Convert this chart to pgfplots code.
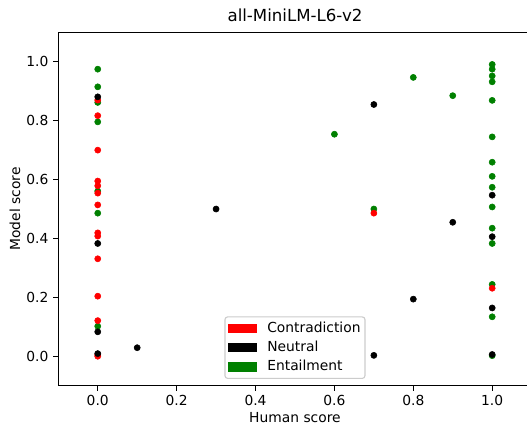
\documentclass[border=0pt]{standalone}
\usepackage{fontspec}
\setmainfont{DejaVu Sans}
\usepackage{pgfplots}
\pgfplotsset{compat=1.18}
\definecolor{mplgreen}{HTML}{008000}
\definecolor{legframe}{HTML}{CCCCCC}

% model scores, one table per label
\pgfplotstableread{
x y
0 0.975
0 0.915
0 0.862
0 0.796
0 0.561
0 0.486
0 0.102
0.6 0.754
0.7 0.500
0.8 0.947
0.9 0.885
1 0.991
1 0.975
1 0.952
1 0.932
1 0.869
1 0.745
1 0.659
1 0.611
1 0.574
1 0.507
1 0.435
1 0.383
1 0.244
1 0.134
1 0.002
}\entail
\pgfplotstableread{
x y
0 0.870
0 0.817
0 0.700
0 0.595
0 0.579
0 0.554
0 0.514
0 0.419
0 0.408
0 0.331
0 0.204
0 0.121
0 0.005
0 0.000
0.7 0.486
1 0.231
}\contra
\pgfplotstableread{
x y
0 0.881
0 0.383
0 0.083
0 0.009
0.1 0.029
0.3 0.500
0.7 0.855
0.7 0.003
0.8 0.194
0.9 0.455
1 0.547
1 0.406
1 0.164
1 0.006
}\neutral

\begin{document}
\begin{tikzpicture}
\begin{axis}[
    at={(0,0)}, anchor=south west,
    scale only axis,
    width=340.8bp, height=254.4bp,
    xmin=-0.1, xmax=1.1,
    ymin=-0.1, ymax=1.1,
    xtick={0,0.2,...,1.0},
    ytick={0,0.2,...,1.0},
    tick align=outside,
    tick pos=left,
    major tick length=3.5bp,
    every tick/.style={black, line width=0.8bp},
    axis line style={line width=0.8bp},
    /pgf/number format/.cd, fixed, fixed zerofill, precision=1, assume math mode=true,
    /pgfplots/.cd,
    ticklabel style={font=\fontsize{10}{12}\selectfont},
    xticklabel style={inner sep=0pt, anchor=north, yshift=-3.5bp},
    yticklabel style={inner sep=0pt, anchor=east, xshift=-3.5bp},
    title={all-MiniLM-L6-v2},
    every axis title/.style={at={(axis description cs:0.5,1)}, anchor=base, yshift=8bp, font=\fontsize{12}{14}\selectfont},
    xlabel={Human score},
    every axis x label/.style={at={(axis description cs:0.5,0)}, anchor=center, yshift=-23bp, font=\fontsize{10}{12}\selectfont},
    ylabel={Model score},
    every axis y label/.style={at={(axis description cs:-0.0915,0.5)}, anchor=center, rotate=90, font=\fontsize{10}{12}\selectfont},
    legend style={at={(axis description cs:0.5,0.019)}, anchor=south,
        draw=legframe, line width=0.8bp, fill=white, fill opacity=0.8, text opacity=1,
        rounded corners=2bp, inner xsep=2.2bp, inner ysep=2.5bp, row sep=2.4bp, column sep=6.5bp,
        font=\fontsize{10}{12}\selectfont,
        nodes={inner sep=1bp, text height=7.4bp, text depth=2.1bp}},
    legend cell align=left,
]
\addplot[only marks, mark=*, mark size=2.2bp, color=mplgreen, forget plot] table[x=x, y=y] {\entail};
\addplot[only marks, mark=*, mark size=2.2bp, color=red, forget plot] table[x=x, y=y] {\contra};
\addplot[only marks, mark=*, mark size=2.2bp, color=black, forget plot] table[x=x, y=y] {\neutral};
\addlegendimage{legend image code/.code={\fill[red, sharp corners, fill opacity=1] (0bp,-3bp) rectangle (20bp,3bp);}}
\addlegendentry{Contradiction}
\addlegendimage{legend image code/.code={\fill[black, sharp corners, fill opacity=1] (0bp,-3bp) rectangle (20bp,3bp);}}
\addlegendentry{Neutral}
\addlegendimage{legend image code/.code={\fill[mplgreen, sharp corners, fill opacity=1] (0bp,-3bp) rectangle (20bp,3bp);}}
\addlegendentry{Entailment}
\end{axis}
\pgfresetboundingbox
\useasboundingbox (-41.98bp,-28.3bp) rectangle (337.46bp,277.7bp);
\end{tikzpicture}
\end{document}
